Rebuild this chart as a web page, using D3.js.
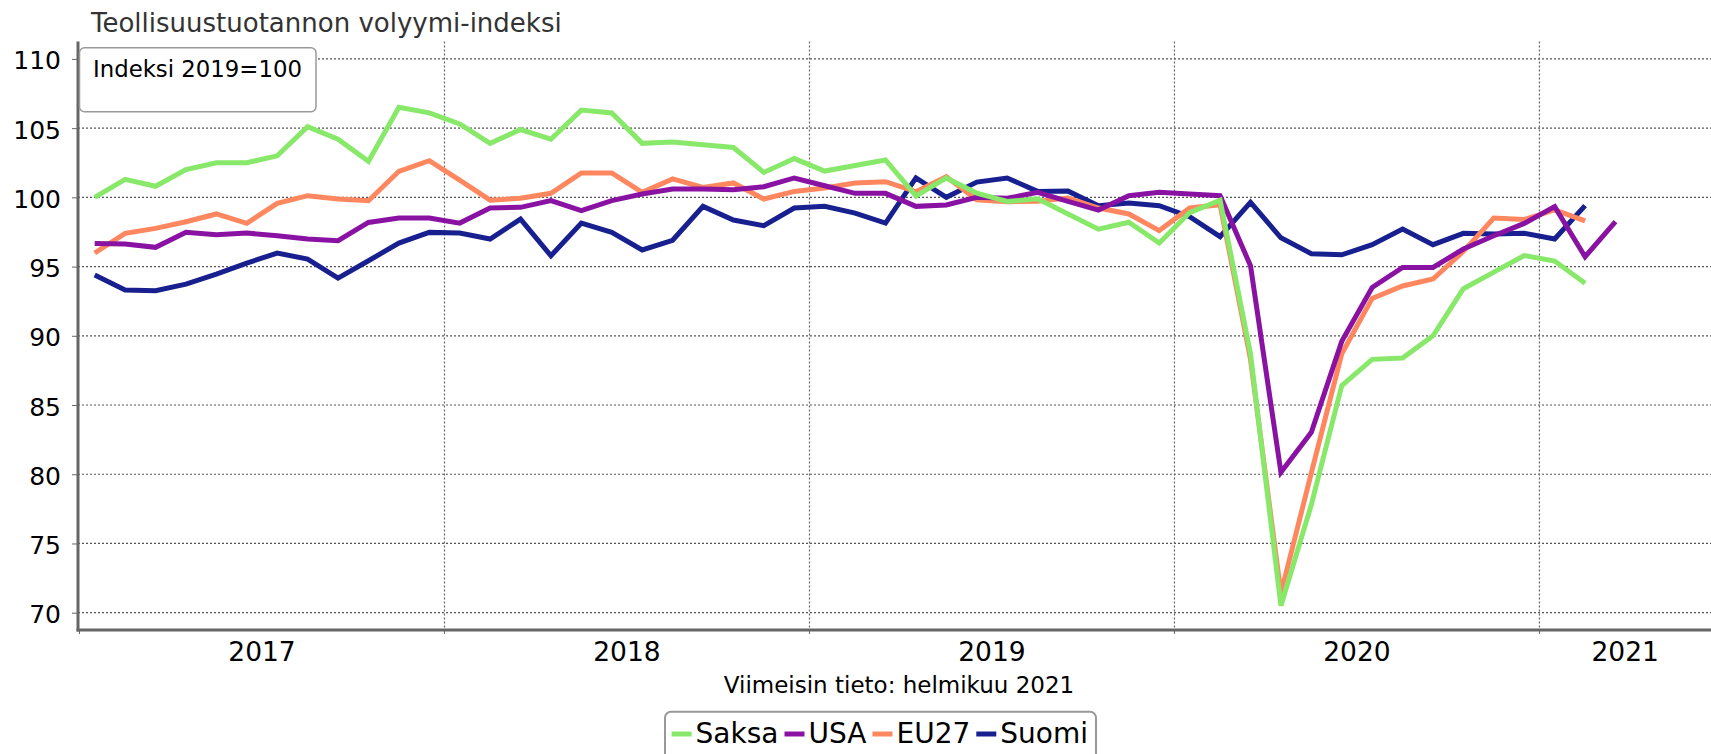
<!DOCTYPE html>
<html>
<head>
<meta charset="utf-8">
<script src="https://cdn.jsdelivr.net/npm/d3@7"></script>
<style>
body { margin: 0; background: #fff; }
svg text { font-family: "DejaVu Sans", Verdana, sans-serif; }
</style>
</head>
<body>
<div id="chart"></div>
<script>
// monthly index values, first value = Jan 2017
var startYear = 2017;
var years = [2017, 2018, 2019, 2020, 2021];
var yTicks = [70, 75, 80, 85, 90, 95, 100, 105, 110];

var saksa = [100.0, 101.3, 100.8, 102.0, 102.5, 102.5, 103.0, 105.1, 104.2, 102.6,
	106.5, 106.1, 105.3, 103.9, 104.9, 104.2, 106.3, 106.1, 103.9, 104.0,
	103.8, 103.6, 101.8, 102.8, 101.9, 102.3, 102.7, 100.1, 101.4, 100.3,
	99.7, 99.9, 98.8, 97.7, 98.2, 96.7, 98.9, 99.8, 88.7, 70.5,
	77.8, 86.4, 88.3, 88.4, 90.0, 93.4, 94.6, 95.8, 95.4, 93.8];
var usa = [96.67, 96.63, 96.39, 97.47, 97.3, 97.42, 97.23, 96.99, 96.87, 98.19,
	98.5, 98.5, 98.14, 99.23, 99.28, 99.76, 99.04, 99.76, 100.24, 100.6,
	100.6, 100.55, 100.77, 101.4, 100.84, 100.29, 100.29, 99.35, 99.45, 100.0,
	99.93, 100.36, 99.71, 99.08, 100.12, 100.36, 100.24, 100.12, 95.06, 80.14,
	83.03, 89.6, 93.49, 94.94, 94.94, 96.27, 97.23, 98.12, 99.33, 95.71, 98.24];
var eu27 = [95.98, 97.4, 97.76, 98.24, 98.8, 98.12, 99.57, 100.12, 99.88, 99.76,
	101.88, 102.65, 101.25, 99.8, 99.93, 100.29, 101.76, 101.76, 100.36, 101.33,
	100.72, 101.04, 99.88, 100.43, 100.67, 101.04, 101.13, 100.41, 101.49, 99.83,
	99.69, 99.71, 99.95, 99.23, 98.8, 97.6, 99.23, 99.47, 88.3, 71.4,
	80.1, 88.7, 92.7, 93.6, 94.1, 96.1, 98.5, 98.4, 99.1, 98.3];
var suomi = [94.39, 93.3, 93.25, 93.73, 94.46, 95.25, 95.98, 95.54, 94.17, 95.42,
	96.7, 97.47, 97.42, 96.99, 98.43, 95.78, 98.14, 97.47, 96.2, 96.9,
	99.35, 98.36, 97.95, 99.23, 99.35, 98.86, 98.14, 101.4, 100.0, 101.1,
	101.4, 100.43, 100.45, 99.4, 99.6, 99.4, 98.6, 97.16, 99.64, 97.08,
	95.93, 95.85, 96.58, 97.71, 96.58, 97.4, 97.35, 97.4, 96.99, 99.4];

var seriesNames = ['Saksa', 'USA', 'EU27', 'Suomi'];
var seriesColors = ['#88e86a', '#8a12a3', '#ff875f', '#18208f'];
var seriesData = [saksa, usa, eu27, suomi];

var width = 1711, height = 754;
var plotLeft = 78, plotRight = 1711, plotTop = 41.6, plotBottom = 630;

var svg = d3.select('#chart').append('svg')
	.attr('width', width).attr('height', height);

var x = d3.scaleLinear().domain([2017, 2021.47]).range([79.5, plotRight]);
var y = d3.scaleLinear().domain([68.75, 111.25]).range([plotBottom, plotTop]);

drawGrid();
drawLines();
drawAxes();
drawTexts();
drawLegend();

function drawGrid(){
	svg.append('g').selectAll('line')
		.data(yTicks).enter().append('line')
		.attr('x1', plotLeft).attr('x2', plotRight)
		.attr('y1', function(d){ return y(d); })
		.attr('y2', function(d){ return y(d); })
		.attr('stroke', '#555').attr('stroke-width', 1.2)
		.attr('stroke-dasharray', '2,2');
	// year boundaries
	svg.append('g').selectAll('line')
		.data(years.slice(1)).enter().append('line')
		.attr('x1', function(d){ return x(d); })
		.attr('x2', function(d){ return x(d); })
		.attr('y1', plotTop).attr('y2', plotBottom)
		.attr('stroke', '#666').attr('stroke-width', 1.2)
		.attr('stroke-dasharray', '2,2');
}

function drawLines(){
	var line = d3.line()
		.x(function(d, i){ return x(startYear + (i + 0.5) / 12); })
		.y(function(d){ return y(d); });
	// last legend item at the bottom, first on top
	for (var k = seriesData.length - 1; k >= 0; k--) {
		svg.append('path')
			.datum(seriesData[k])
			.attr('d', line)
			.attr('fill', 'none')
			.attr('stroke', seriesColors[k])
			.attr('stroke-width', 5);
	}
}

function drawAxes(){
	var yAxis = d3.axisLeft(y).tickValues(yTicks).tickSize(6).tickPadding(11);
	var gy = svg.append('g').attr('transform', 'translate(' + plotLeft + ',0)').call(yAxis);
	gy.select('.domain').remove();
	gy.selectAll('.tick line').attr('stroke', '#666');
	gy.selectAll('.tick text')
		.attr('font-family', '"DejaVu Sans", Verdana, sans-serif')
		.attr('font-size', 25).attr('fill', '#000').attr('dy', '0.4em');

	svg.append('line')
		.attr('x1', plotLeft).attr('x2', plotLeft).attr('y1', plotTop).attr('y2', plotBottom + 1.5)
		.attr('stroke', '#666').attr('stroke-width', 3);
	svg.append('line')
		.attr('x1', plotLeft - 1.5).attr('x2', plotRight).attr('y1', plotBottom).attr('y2', plotBottom)
		.attr('stroke', '#666').attr('stroke-width', 3);

	svg.append('g').selectAll('line')
		.data(years).enter().append('line')
		.attr('x1', function(d){ return x(d); })
		.attr('x2', function(d){ return x(d); })
		.attr('y1', plotBottom).attr('y2', plotBottom + 4)
		.attr('stroke', '#666').attr('stroke-width', 1);

	var xMax = x.domain()[1];
	svg.append('g').selectAll('text')
		.data(years).enter().append('text')
		.attr('x', function(d){ return (x(d) + x(Math.min(d + 1, xMax))) / 2; })
		.attr('y', 661)
		.attr('text-anchor', 'middle')
		.attr('font-size', 26.5)
		.attr('fill', '#000')
		.text(function(d){ return d; });
}

function drawTexts(){
	svg.append('text')
		.attr('x', 91).attr('y', 31.5)
		.attr('font-size', 26).attr('fill', '#333')
		.text('Teollisuustuotannon volyymi-indeksi');

	svg.append('rect')
		.attr('x', 79.5).attr('y', 47.8).attr('width', 236.5).attr('height', 64)
		.attr('rx', 5).attr('fill', '#fff')
		.attr('stroke', '#999').attr('stroke-width', 1.5);
	svg.append('text')
		.attr('x', 93).attr('y', 77.3)
		.attr('font-size', 22.8).attr('fill', '#000')
		.text('Indeksi 2019=100');

	svg.append('text')
		.attr('x', 899).attr('y', 692.7)
		.attr('text-anchor', 'middle')
		.attr('font-size', 23).attr('fill', '#000')
		.text('Viimeisin tieto: helmikuu 2021');
}

function drawLegend(){
	var lg = svg.append('g');
	lg.append('rect')
		.attr('x', 665).attr('y', 711.7).attr('width', 431).attr('height', 60)
		.attr('rx', 6).attr('fill', '#fff')
		.attr('stroke', '#999').attr('stroke-width', 2);
	var cx = 671.6;
	seriesNames.forEach(function(name, i){
		lg.append('line')
			.attr('x1', cx).attr('x2', cx + 20).attr('y1', 734).attr('y2', 734)
			.attr('stroke', seriesColors[i]).attr('stroke-width', 5);
		var t = lg.append('text')
			.attr('x', cx + 24).attr('y', 743)
			.attr('font-size', 28).attr('fill', '#000')
			.text(name);
		cx = cx + 24 + t.node().getComputedTextLength() + 6;
	});
}
</script>
</body>
</html>
